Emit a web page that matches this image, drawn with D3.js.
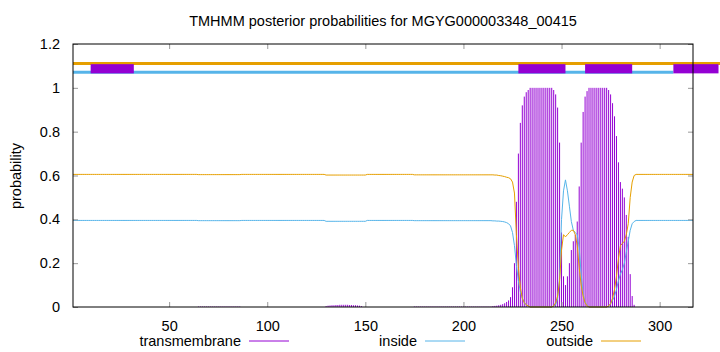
<!DOCTYPE html>
<html>
<head>
<meta charset="utf-8">
<script src="https://cdn.jsdelivr.net/npm/d3@7"></script>
<style>
  body { margin: 0; background: white; }
  text { font-family: "Liberation Sans", Arial, sans-serif; }
</style>
</head>
<body>
<div id="chart"></div>
<script>
let w = 720;
let h = 352;

let title = "TMHMM posterior probabilities for MGYG000003348_00415";
let xTicks = [50, 100, 150, 200, 250, 300];
let yTicks = [0, 0.2, 0.4, 0.6, 0.8, 1, 1.2];
let seriesNames = ["transmembrane", "inside", "outside"];

// posterior per residue, 1..317
let transmembrane = [
  0,0,0,0,0,0,0,0,0,0,
  0,0,0,0,0,0,0,0,0,0,
  0,0,0,0,0,0,0,0,0,0,
  0,0,0,0,0,0,0,0,0,0,
  0,0,0,0,0,0,0,0,0,0,
  0,0,0,0,0,0,0,0,0,0,
  0,0,0,0,.002,.002,.002,.002,.002,.002,
  .002,.002,.002,.002,.002,.002,.002,.002,.002,.002,
  .002,.002,.002,.002,.002,.002,0,0,0,0,
  0,0,0,0,0,0,0,0,0,0,
  0,0,0,0,0,0,0,0,0,0,
  0,0,0,0,0,0,0,0,0,0,
  0,0,0,0,0,0,0,0,0,.004,
  .006,.007,.008,.008,.009,.009,.01,.01,.01,.01,
  .01,.009,.009,.008,.008,.007,.006,.004,0,0,
  0,0,0,0,0,0,0,0,0,0,
  0,0,0,0,0,0,0,0,0,0,
  0,0,0,0,.002,.002,.002,.002,.002,.002,
  .002,.002,.002,.002,.002,.002,.002,.002,.002,.002,
  .002,.002,.002,.002,.002,.002,.002,.002,.002,.002,
  .002,.002,.002,.002,.002,.002,.002,.002,.002,.002,
  .002,.002,.002,.002,.004,.005,.006,.008,.010,.013,
  .017,.023,.03,.045,.09,.20,.48,.70,.84,.92,
  .96,.98,.99,1,1,1,1,1,1,1,
  1,1,1,1,1,.99,.97,.91,.75,.34,
  .14,.10,.14,.20,.26,.30,.33,.39,.55,.75,
  .89,.96,.985,1,1,1,1,1,1,1,
  1,1,1,.99,.97,.93,.87,.78,.66,.57,
  .54,.50,.42,.32,.15,.05,.01,0,0,0,
  0,0,0,0,0,0,0,0,0,0,
  0,0,0,0,0,0,0,0,0,0,
  0,0,0,0,0,0,0
];

let inside = [
  .395,.395,.395,.395,.395,.395,.395,.395,.395,.395,
  .395,.395,.395,.395,.395,.395,.395,.395,.395,.395,
  .395,.395,.395,.395,.395,.395,.395,.395,.395,.395,
  .395,.395,.395,.395,.395,.395,.395,.395,.395,.395,
  .395,.395,.395,.395,.395,.395,.395,.395,.395,.395,
  .395,.395,.395,.395,.395,.395,.395,.395,.395,.395,
  .395,.395,.395,.395,.394,.394,.394,.394,.394,.394,
  .394,.394,.394,.394,.394,.394,.394,.394,.394,.394,
  .394,.394,.394,.394,.394,.394,.395,.395,.395,.395,
  .395,.395,.395,.395,.395,.395,.395,.395,.395,.395,
  .395,.395,.395,.395,.395,.395,.395,.395,.395,.395,
  .395,.395,.395,.395,.395,.395,.395,.395,.395,.395,
  .395,.395,.395,.395,.395,.395,.395,.395,.395,.391,
  .391,.391,.391,.391,.391,.391,.391,.391,.391,.391,
  .391,.391,.391,.391,.391,.391,.391,.391,.391,.391,
  .395,.395,.395,.395,.395,.395,.395,.395,.395,.395,
  .395,.395,.395,.395,.395,.395,.395,.395,.395,.395,
  .395,.395,.395,.395,.394,.394,.394,.394,.394,.394,
  .394,.394,.394,.394,.394,.394,.394,.394,.394,.394,
  .394,.394,.394,.394,.394,.394,.394,.394,.394,.394,
  .394,.394,.394,.394,.394,.394,.394,.394,.394,.394,
  .394,.394,.394,.394,.393,.393,.392,.392,.391,.390,
  .388,.385,.38,.37,.34,.28,.19,.12,.07,.04,
  .02,.01,.005,0,0,0,0,0,0,0,
  0,0,0,0,0,.005,.01,.04,.13,.40,
  .53,.58,.53,.46,.39,.35,.34,.33,.27,.15,
  .06,.02,.01,0,0,0,0,0,0,0,
  0,0,0,.005,.015,.03,.05,.08,.12,.15,
  .17,.20,.25,.30,.35,.38,.39,.395,.395,.395,
  .395,.395,.395,.395,.395,.395,.395,.395,.395,.395,
  .395,.395,.395,.395,.395,.395,.395,.395,.395,.395,
  .395,.395,.395,.395,.395,.395,.395
];

let outside = [
  .605,.605,.605,.605,.605,.605,.605,.605,.605,.605,
  .605,.605,.605,.605,.605,.605,.605,.605,.605,.605,
  .605,.605,.605,.605,.605,.605,.605,.605,.605,.605,
  .605,.605,.605,.605,.605,.605,.605,.605,.605,.605,
  .605,.605,.605,.605,.605,.605,.605,.605,.605,.605,
  .605,.605,.605,.605,.605,.605,.605,.605,.605,.605,
  .605,.605,.605,.605,.604,.604,.604,.604,.604,.604,
  .604,.604,.604,.604,.604,.604,.604,.604,.604,.604,
  .604,.604,.604,.604,.604,.604,.605,.605,.605,.605,
  .605,.605,.605,.605,.605,.605,.605,.605,.605,.605,
  .605,.605,.605,.605,.605,.605,.605,.605,.605,.605,
  .605,.605,.605,.605,.605,.605,.605,.605,.605,.605,
  .605,.605,.605,.605,.605,.605,.605,.605,.605,.602,
  .602,.602,.602,.602,.602,.602,.602,.602,.602,.602,
  .602,.602,.602,.602,.602,.602,.602,.602,.602,.602,
  .605,.605,.605,.605,.605,.605,.605,.605,.605,.605,
  .605,.605,.605,.605,.605,.605,.605,.605,.605,.605,
  .605,.605,.605,.605,.603,.603,.603,.603,.603,.603,
  .603,.603,.603,.603,.603,.603,.603,.603,.603,.603,
  .603,.603,.603,.603,.603,.603,.603,.603,.603,.603,
  .603,.603,.603,.603,.603,.603,.603,.603,.603,.603,
  .603,.603,.603,.603,.603,.602,.602,.600,.599,.597,
  .595,.592,.59,.585,.57,.52,.33,.18,.09,.04,
  .02,.01,.005,0,0,0,0,0,0,0,
  0,0,0,0,0,.005,.02,.05,.12,.26,
  .33,.32,.33,.34,.35,.35,.33,.28,.18,.10,
  .05,.02,.005,0,0,0,0,0,0,0,
  0,0,0,.005,.015,.04,.08,.14,.22,.28,
  .29,.30,.33,.38,.50,.57,.60,.605,.605,.605,
  .605,.605,.605,.605,.605,.605,.605,.605,.605,.605,
  .605,.605,.605,.605,.605,.605,.605,.605,.605,.605,
  .605,.605,.605,.605,.605,.605,.605
];

// predicted topology strips above the plot
let outsideStrip = [[1, 332]];
let insideStrip = [[1, 307]];
let helixBoxes = [[10, 32], [228, 252], [262, 286], [307, 330]];

let colTM = "#9400d3";
let colIn = "#56b4e9";
let colOut = "#e69f00";

let mLeft = 73, mRight = 693, mTop = 44, mBottom = 307;
let fontSize = 14.5;

let svg = d3.select("#chart").append("svg")
  .attr("width", w)
  .attr("height", h)
  .style("background-color", "white");

let x = d3.scaleLinear().domain([1, 317]).range([mLeft, mRight]);
let y = d3.scaleLinear().domain([0, 1.2]).range([mBottom, mTop]);

let residues = d3.range(1, transmembrane.length + 1);

// impulses for transmembrane
svg.append("g").selectAll("line").data(residues).enter()
  .append("line")
  .attr("x1", d => x(d))
  .attr("x2", d => x(d))
  .attr("y1", y(0))
  .attr("y2", d => y(transmembrane[d - 1]))
  .attr("stroke", colTM)
  .attr("stroke-width", 1);

let line = arr => d3.line()
  .x(d => x(d))
  .y(d => y(arr[d - 1]))(residues);

svg.append("path").attr("d", line(inside))
  .attr("fill", "none").attr("stroke", colIn).attr("stroke-width", 1);
svg.append("path").attr("d", line(outside))
  .attr("fill", "none").attr("stroke", colOut).attr("stroke-width", 1);

// strips
svg.selectAll(".outstrip").data(outsideStrip).enter()
  .append("line")
  .attr("x1", d => x(d[0])).attr("x2", d => x(d[1]))
  .attr("y1", y(1.111)).attr("y2", y(1.111))
  .attr("stroke", colOut).attr("stroke-width", 3);
svg.selectAll(".instrip").data(insideStrip).enter()
  .append("line")
  .attr("x1", d => x(d[0])).attr("x2", d => x(d[1]))
  .attr("y1", y(1.071)).attr("y2", y(1.071))
  .attr("stroke", colIn).attr("stroke-width", 3);
svg.selectAll(".helix").data(helixBoxes).enter()
  .append("rect")
  .attr("x", d => x(d[0]))
  .attr("width", d => x(d[1]) - x(d[0]))
  .attr("y", y(1.108))
  .attr("height", y(1.066) - y(1.108))
  .attr("fill", colTM);

// axes, gnuplot style ticks inside on all sides
svg.append("g").attr("transform", `translate(0,${mBottom})`)
  .call(d3.axisBottom(x).tickValues(xTicks).tickSize(-5).tickPadding(14));
svg.append("g").attr("transform", `translate(0,${mTop})`)
  .call(d3.axisTop(x).tickValues(xTicks).tickSize(-5).tickFormat(""));
svg.append("g").attr("transform", `translate(${mLeft},0)`)
  .call(d3.axisLeft(y).tickValues(yTicks).tickSize(-5).tickPadding(13)
    .tickFormat(d => String(+d.toFixed(1))));
svg.append("g").attr("transform", `translate(${mRight},0)`)
  .call(d3.axisRight(y).tickValues(yTicks).tickSize(-5).tickFormat(""));

svg.selectAll(".domain").remove();
svg.selectAll(".tick line").attr("stroke", "#999");
svg.selectAll(".tick text")
  .attr("font-size", fontSize)
  .attr("fill", "#000")
  .style("font-family", "Liberation Sans, Arial, sans-serif");

svg.append("rect")
  .attr("x", mLeft).attr("y", mTop)
  .attr("width", mRight - mLeft).attr("height", mBottom - mTop)
  .attr("fill", "none").attr("stroke", "#000").attr("stroke-width", 1);

svg.append("text")
  .attr("x", (mLeft + mRight) / 2).attr("y", 26)
  .attr("text-anchor", "middle")
  .attr("font-size", fontSize)
  .text(title);

svg.append("text")
  .attr("transform", "translate(21,176) rotate(-90)")
  .attr("text-anchor", "middle")
  .attr("font-size", fontSize)
  .text("probability");

// legend
let legendPos = [241, 417, 593];
let legendCols = [colTM, colIn, colOut];
seriesNames.forEach(function(name, i){
  svg.append("text")
    .attr("x", legendPos[i]).attr("y", 346)
    .attr("text-anchor", "end")
    .attr("font-size", fontSize)
    .text(name);
  svg.append("line")
    .attr("x1", legendPos[i] + 8).attr("x2", legendPos[i] + 48)
    .attr("y1", 341).attr("y2", 341)
    .attr("stroke", legendCols[i]).attr("stroke-width", 1);
});
</script>
</body>
</html>
